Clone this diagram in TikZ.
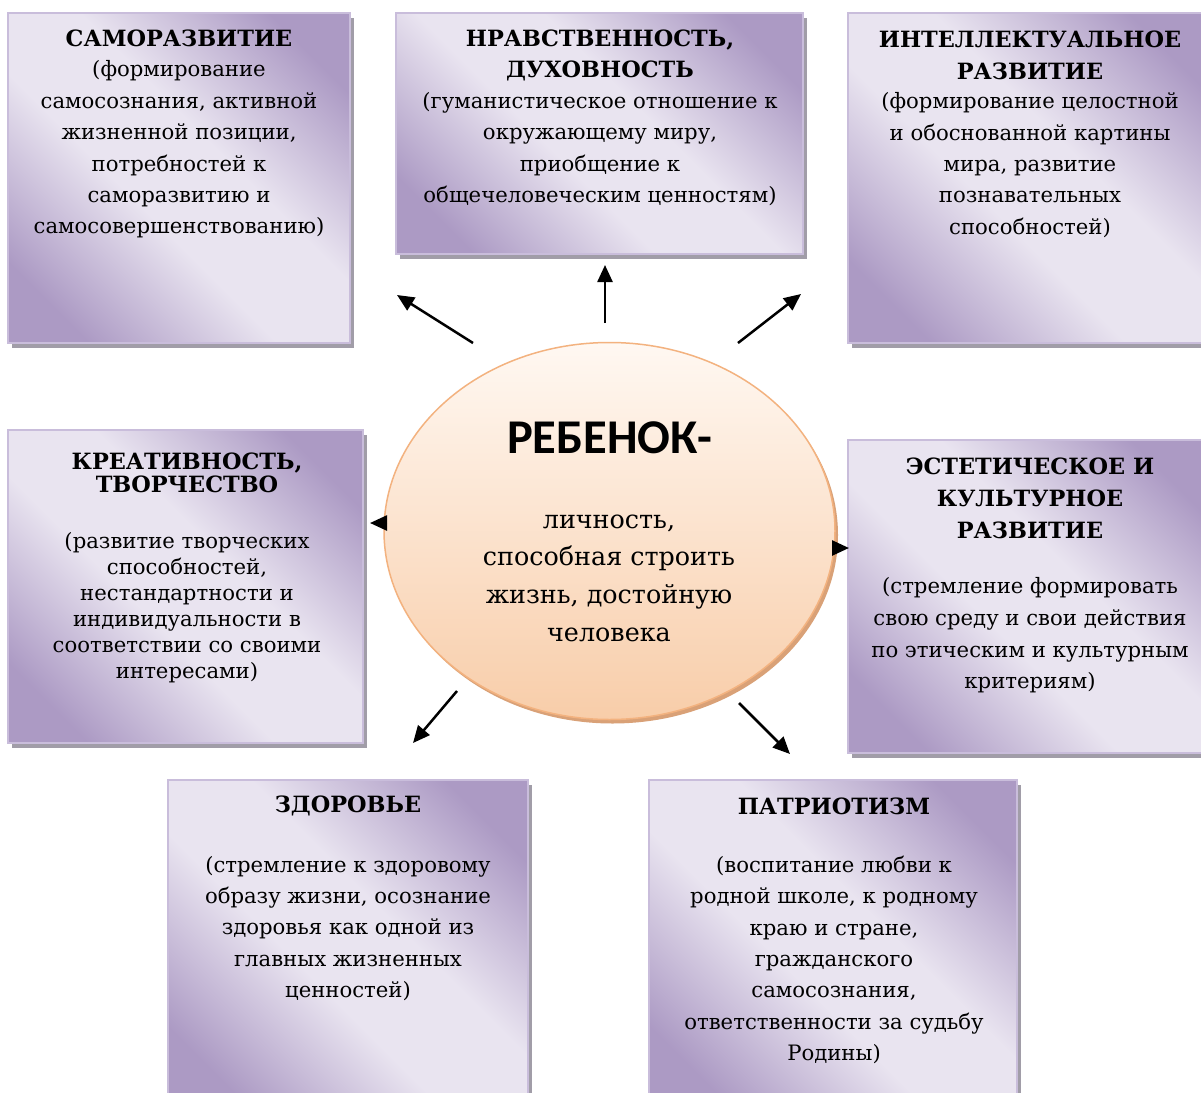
\documentclass[tikz,border=0pt]{standalone}
\usepackage{fontspec}
\setmainfont{DejaVu Serif}
\newfontfamily\calib{Carlito}
\usetikzlibrary{arrows.meta,shadows,shapes.geometric}
\definecolor{boxdark}{HTML}{AC9AC4}
\definecolor{boxlight}{HTML}{E9E4F0}
\definecolor{boxline}{HTML}{C9BDDB}
\definecolor{boxshadow}{HTML}{A19DA8}
\definecolor{elltop}{HTML}{FFF8F2}
\definecolor{ellbot}{HTML}{F8CDA9}
\definecolor{ellline}{HTML}{F3B27F}
\definecolor{ellshadow}{HTML}{D9A177}
\pgfdeclareverticalshading{cardshade}{100bp}{color(0bp)=(boxdark); color(23bp)=(boxdark); color(43bp)=(boxlight); color(57bp)=(boxlight); color(77bp)=(boxdark); color(100bp)=(boxdark)}
\begin{document}
\begin{tikzpicture}[x=1pt,y=-1pt,
  card/.style={draw=boxline, line width=1.2pt, shading=cardshade, shading angle=-45,
    drop shadow={shadow xshift=4pt, shadow yshift=-5pt, fill=boxshadow, opacity=1},
    inner sep=0pt},
  head/.style={font=\bfseries\fontsize{22.4}{31.5}\selectfont, align=center, inner sep=0pt},
  body/.style={font=\fontsize{21.2}{31.4}\selectfont, align=center, inner sep=0pt},
  arr/.style={line width=2.5pt, -{Triangle[length=17pt,width=15pt]}}
]
\useasboundingbox (0,0) rectangle (1201,1092);
\fill[white] (0,0) rectangle (1201,1092);

% boxes
\node[card, minimum width=342pt, minimum height=330pt] (b1) at (179,178) {};
\node[card, minimum width=407pt, minimum height=241pt] (b2) at (599.5,133.5) {};
\node[card, minimum width=364pt, minimum height=330pt] (b3) at (1030,178) {};
\node[card, minimum width=355pt, minimum height=313pt] (b4) at (185.5,586.5) {};
\node[card, minimum width=364pt, minimum height=313pt] (b5) at (1030,596.5) {};
\node[card, minimum width=360pt, minimum height=330pt] (b6) at (348,945) {};
\node[card, minimum width=368pt, minimum height=330pt] (b7) at (833,945) {};

% central ellipse
\node[ellipse, draw=ellline, line width=1.5pt, top color=elltop, bottom color=ellbot,
  drop shadow={shadow xshift=3pt, shadow yshift=-4pt, fill=ellshadow, opacity=1},
  minimum width=451pt, minimum height=377pt, inner sep=0pt] (ell) at (609.5,531) {};

% texts
\node[head] (t1h) at (179,38) {САМОРАЗВИТИЕ};
\node[body] (t1b) at (179,149.5) {(формирование\\самосознания, активной\\жизненной позиции,\\потребностей к\\саморазвитию и\\самосовершенствованию)};

\node[head] (t2h) at (600,55.5) {НРАВСТВЕННОСТЬ,\\ДУХОВНОСТЬ};
\node[body] (t2b) at (600,149) {(гуманистическое отношение к\\окружающему миру,\\приобщение к\\общечеловеческим ценностям)};

\node[head] (t3h) at (1030,55.5) {ИНТЕЛЛЕКТУАЛЬНОЕ\\РАЗВИТИЕ};
\node[body] (t3b) at (1030,165) {(формирование целостной\\и обоснованной картины\\мира, развитие\\познавательных\\способностей)};

\node[head, font=\bfseries\fontsize{22.4}{23}\selectfont] (t4h) at (187,472.5) {КРЕАТИВНОСТЬ,\\ТВОРЧЕСТВО};
\node[body, font=\fontsize{21.2}{26}\selectfont] (t4b) at (187,608) {(развитие творческих\\способностей,\\нестандартности и\\индивидуальности в\\соответствии со своими\\интересами)};

\node[head, font=\bfseries\fontsize{22.4}{32}\selectfont] (t5h) at (1030,498) {ЭСТЕТИЧЕСКОЕ И\\КУЛЬТУРНОЕ\\РАЗВИТИЕ};
\node[body, font=\fontsize{21.2}{31.7}\selectfont] (t5b) at (1030,635.5) {(стремление формировать\\свою среду и свои действия\\по этическим и культурным\\критериям)};

\node[head] (t6h) at (348,806) {ЗДОРОВЬЕ};
\node[body] (t6b) at (348,928.5) {(стремление к здоровому\\образу жизни, осознание\\здоровья как одной из\\главных жизненных\\ценностей)};

\node[head] (t7h) at (834,806) {ПАТРИОТИЗМ};
\node[body] (t7b) at (834,960) {(воспитание любви к\\родной школе, к родному\\краю и стране,\\гражданского\\самосознания,\\ответственности за судьбу\\Родины)};

\node[font=\calib\bfseries\fontsize{48.5}{52}\selectfont, inner sep=0pt] (eh) at (610,438) {РЕБЕНОК-};
\node[body, font=\fontsize{25.4}{37.6}\selectfont] (eb) at (609,578) {личность,\\способная строить\\жизнь, достойную\\человека};

% arrow end points
\coordinate (a1s) at (473,343); \coordinate (a1e) at (397,295);
\coordinate (a2s) at (605,323); \coordinate (a2e) at (605,265);
\coordinate (a3s) at (738,343); \coordinate (a3e) at (801,294);
\coordinate (a4s) at (387,523); \coordinate (a4e) at (370,523);
\coordinate (a5s) at (832,548); \coordinate (a5e) at (849,548);
\coordinate (a6s) at (457,691); \coordinate (a6e) at (413,743);
\coordinate (a7s) at (739,703); \coordinate (a7e) at (790,754);

\draw[arr] (a1s) -- (a1e);
\draw[arr] (a2s) -- (a2e);
\draw[arr] (a3s) -- (a3e);
\draw[arr] (a4s) -- (a4e);
\draw[arr] (a5s) -- (a5e);
\draw[arr] (a6s) -- (a6e);
\draw[arr] (a7s) -- (a7e);
\end{tikzpicture}
\end{document}
